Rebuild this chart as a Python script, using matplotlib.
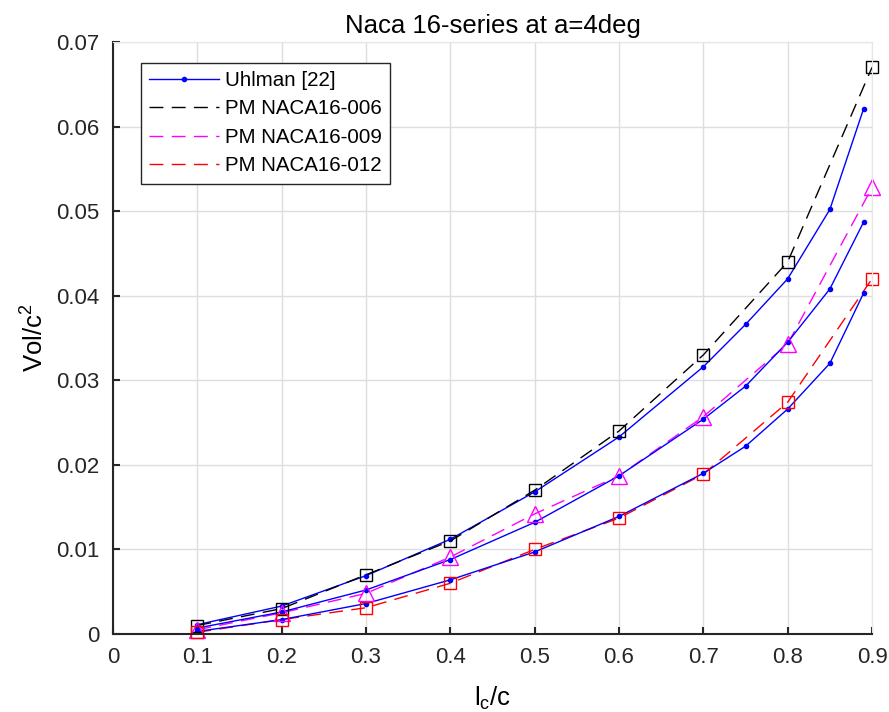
import numpy as np
import matplotlib
matplotlib.use('Agg')
import matplotlib.pyplot as plt

plt.rcParams['font.family'] = ['Liberation Sans', 'DejaVu Sans']
plt.rcParams['mathtext.default'] = 'regular'

# %% data
x_pm = [0.1, 0.2, 0.3, 0.4, 0.5, 0.6, 0.7, 0.8, 0.9]
pm_006 = [0.0010, 0.0030, 0.0070, 0.0110, 0.0170, 0.0240, 0.0330, 0.0440, 0.0670]
pm_009 = [0.0005, 0.0025, 0.0048, 0.0091, 0.0142, 0.0187, 0.0257, 0.0343, 0.0528]
pm_012 = [0.0002, 0.0017, 0.0031, 0.0060, 0.0100, 0.0137, 0.0189, 0.0274, 0.0420]

x_uh = [0.1, 0.2, 0.3, 0.4, 0.5, 0.6, 0.7, 0.75, 0.8, 0.85, 0.89]
uh_006 = [0.0011, 0.0033, 0.0069, 0.0112, 0.0168, 0.0233, 0.0316, 0.0366, 0.0420, 0.0502, 0.0621]
uh_009 = [0.0007, 0.0026, 0.0052, 0.0088, 0.0132, 0.0187, 0.0254, 0.0293, 0.0345, 0.0408, 0.0487]
uh_012 = [0.0003, 0.0017, 0.0036, 0.0064, 0.0097, 0.0139, 0.0190, 0.0222, 0.0266, 0.0320, 0.0403]

xticks = np.arange(0, 0.91, 0.1)
yticks = np.arange(0, 0.071, 0.01)

# %% figure
fig = plt.figure(figsize=(8.89, 7.12), dpi=100)
ax = fig.add_axes([0.1271, 0.1096, 0.9809 - 0.1271, 0.941 - 0.1096])

dash = (10, 6)
blue = (0, 0, 1)
mag = (1, 0, 1)
red = (1, 0, 0)

ax.plot(x_uh, uh_006, '-', color=blue, lw=1, marker='o', ms=3, label='Uhlman [22]')
ax.plot(x_pm, pm_006, '--', color='k', lw=1, dashes=dash, label='PM NACA16-006')
ax.plot(x_pm, pm_009, '--', color=mag, lw=1, dashes=dash, label='PM NACA16-009')
ax.plot(x_pm, pm_012, '--', color=red, lw=1, dashes=dash, label='PM NACA16-012')
ax.plot(x_uh, uh_009, '-', color=blue, lw=1, marker='o', ms=3)
ax.plot(x_uh, uh_012, '-', color=blue, lw=1, marker='o', ms=3)

# markers drawn separately (not in legend)
ax.plot(x_pm, pm_006, 's', mfc='none', mec='k', ms=8.8, mew=1, clip_on=False)
ax.plot(x_pm, pm_009, '^', mfc='none', mec=mag, ms=11.5, mew=1, clip_on=False)
ax.plot(x_pm, pm_012, 's', mfc='none', mec=red, ms=8.8, mew=1, clip_on=False)

ax.set_xlim(0, 0.9)
ax.set_ylim(0, 0.07)
ax.set_xticks(xticks)
ax.set_xticklabels(['0'] + ['%.1f' % v for v in xticks[1:]])
ax.set_yticks(yticks)
ax.set_yticklabels(['0'] + ['%.2f' % v for v in yticks[1:]])
ax.tick_params(direction='in', length=5, width=1.5, labelsize=16, colors='#262626', pad=9.5)
ax.grid(True, color='#dedede', lw=1)
ax.set_axisbelow(True)
for s in ['top', 'right']:
    ax.spines[s].set_color('#e6e6e6')
for s in ['left', 'bottom']:
    ax.spines[s].set_color('#262626')
    ax.spines[s].set_linewidth(1.5)

ax.set_title('Naca 16-series at a=4deg', fontsize=18.5, pad=6.5)
ax.set_xlabel('l$_c$/c', fontsize=18.5, labelpad=12)
ax.set_ylabel('Vol/c$^2$', fontsize=18.5, labelpad=5.5)

leg = ax.legend(loc='upper left', bbox_to_anchor=(0.0369, 0.965), borderaxespad=0,
                fontsize=14.8, frameon=True, fancybox=False, edgecolor='#262626',
                framealpha=1, handlelength=3.4, handletextpad=0.3, borderpad=0.4,
                labelspacing=0.46)
leg.get_frame().set_linewidth(1)

fig.savefig('out.png', dpi=100)
